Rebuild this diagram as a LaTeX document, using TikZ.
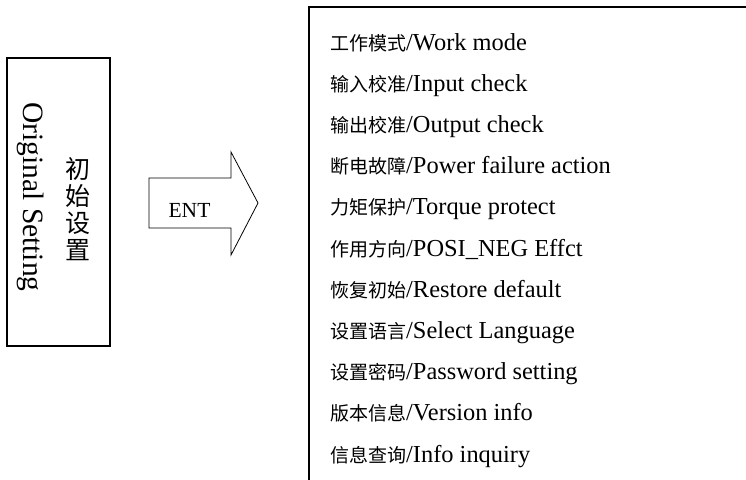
\documentclass[tikz,border=0pt]{standalone}
\usepackage{fontspec}
\setmainfont{Liberation Serif}
\newfontfamily\cjk{Noto Sans CJK SC}
\begin{document}
\begin{tikzpicture}[x=1pt,y=-1pt,
  frame/.style={draw=black,line width=1.1pt},
  item/.style={anchor=base west,inner sep=0pt,font=\fontsize{24.4}{24.4}\selectfont}]
\useasboundingbox (0,0) rectangle (746,479);
% left box
\node[frame,minimum width=103pt,minimum height=288pt,inner sep=0pt] (orig) at (58.5,202) {};
\node[rotate=-90,inner sep=0pt,font=\fontsize{29.5}{29.5}\selectfont] (origen) at (31,197) {Original Setting};
\node[align=center,inner sep=0pt,font=\cjk\fontsize{25}{27}\selectfont] (origzh) at (78,209) {初\\始\\设\\置};
% arrow
\draw[line width=0.8pt,line join=miter] (149,178) -- (231,178) -- (231,152) -- (258,203) -- (231,255) -- (231,228) -- (149,228) -- cycle;
\node[inner sep=0pt,font=\fontsize{21.5}{21.5}\selectfont] (ent) at (189.5,210) {ENT};
% menu box (extends past the right and bottom edges)
\coordinate (mbl) at (309,485);
\coordinate (mtr) at (752,7);
\draw[frame] (mbl) |- (mtr);
% items
\foreach \zhtxt/\entxt [count=\i from 0] in {
  工作模式/Work mode,
  输入校准/Input check,
  输出校准/Output check,
  断电故障/Power failure action,
  力矩保护/Torque protect,
  作用方向/POSI\_NEG Effct,
  恢复初始/Restore default,
  设置语言/Select Language,
  设置密码/Password setting,
  版本信息/Version info,
  信息查询/Info inquiry}
  \node[item] (it\i) at (330,{50+41.2*\i}) {{\cjk\fontsize{19}{19}\selectfont\zhtxt}/\entxt};
\end{tikzpicture}
\end{document}
